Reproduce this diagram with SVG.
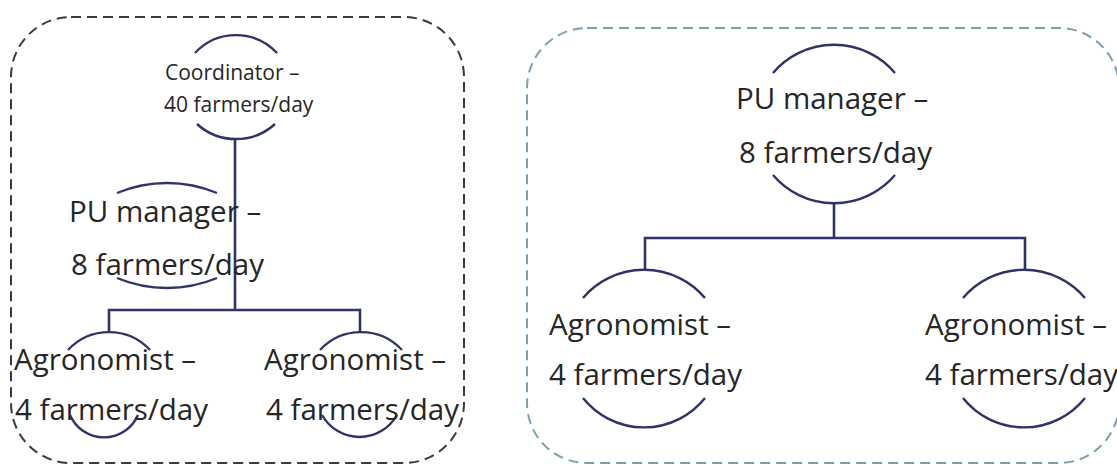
<svg xmlns="http://www.w3.org/2000/svg" width="1117" height="466" viewBox="0 0 1117 466">
<style>
.frame{fill:none;stroke-width:2;stroke-dasharray:10 6}
.f1{stroke:#3a3a3a}
.f2{stroke:#7d9fac}
.arc{fill:none;stroke:#2f3368;stroke-width:2.4}
.ln{fill:none;stroke:#2f3368;stroke-width:2.6}
.t{font-family:"Open Sans",Lato,"Liberation Sans",sans-serif;fill:#262626}
.big{font-size:29.5px}
.small{font-size:21px}
</style>
<rect width="1117" height="466" fill="#ffffff"/>
<g id="frames">
<rect class="frame f1" x="11" y="17" width="453" height="446" rx="60" ry="60"/>
<rect class="frame f2" x="527" y="28" width="592" height="435" rx="60" ry="60"/>
</g>
<g id="connectors">
<path class="ln" d="M235 139 V310 M109 332 V310 H360 V332"/>
<path class="ln" d="M834 203 V238 M645 270 V238 H1025 V270"/>
</g>
<g id="coordinator">
<path class="arc" d="M195 53 A56 56 0 0 1 277 53"/>
<path class="arc" d="M197 124 A58 58 0 0 0 275 124"/>
<text class="t small" x="165" y="80">Coordinator –</text>
<text class="t small" x="164" y="112">40 farmers/day</text>
</g>
<g id="pu-left">
<path class="arc" d="M117 193 A130 130 0 0 1 217 193"/>
<path class="arc" d="M117 278 A130 130 0 0 0 217 278"/>
<text class="t big" x="69" y="222">PU manager –</text>
<text class="t big" x="71" y="275">8 farmers/day</text>
</g>
<g id="agro-l1">
<path class="arc" d="M68 350 A56 56 0 0 1 150 350"/>
<path class="arc" d="M70 415 A37 37 0 0 0 138 415"/>
<text class="t big" x="14" y="370">Agronomist –</text>
<text class="t big" x="15" y="420">4 farmers/day</text>
</g>
<g id="agro-l2">
<path class="arc" d="M320 350 A56 56 0 0 1 402 350"/>
<path class="arc" d="M322 415 A43 43 0 0 0 397 415"/>
<text class="t big" x="264" y="370">Agronomist –</text>
<text class="t big" x="266" y="420">4 farmers/day</text>
</g>
<g id="pu-right">
<path class="arc" d="M773 73 A80 80 0 0 1 895 73"/>
<path class="arc" d="M773 175 A80 80 0 0 0 895 175"/>
<text class="t big" x="736" y="109">PU manager –</text>
<text class="t big" x="739" y="163">8 farmers/day</text>
</g>
<g id="agro-r1">
<path class="arc" d="M583 298 A80 80 0 0 1 705 298"/>
<path class="arc" d="M583 398 A78 78 0 0 0 705 398"/>
<text class="t big" x="549" y="335">Agronomist –</text>
<text class="t big" x="549" y="385">4 farmers/day</text>
</g>
<g id="agro-r2">
<path class="arc" d="M963 298 A80 80 0 0 1 1085 298"/>
<path class="arc" d="M963 398 A78 78 0 0 0 1085 398"/>
<text class="t big" x="925" y="335" font-size="28.5">Agronomist –</text>
<text class="t big" x="925" y="385" font-size="28.5">4 farmers/day</text>
</g>
</svg>
